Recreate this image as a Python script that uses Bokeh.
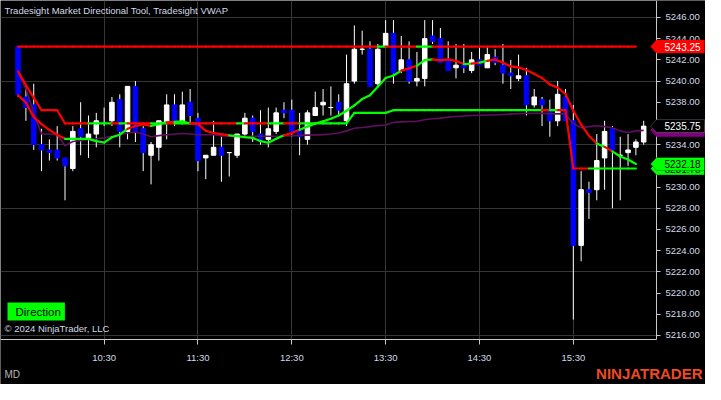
from bokeh.plotting import figure
from bokeh.models import (ColumnDataSource, Range1d, FixedTicker, NumeralTickFormatter,
                          Label, PolyAnnotation, BoxAnnotation)
from bokeh.embed import file_html
from bokeh.resources import INLINE

# ---------------- data ----------------
first_bar = "09:35"          # time stamp of the first 5-minute bar
bar_minutes = 5
x_tick_labels = ["10:30", "11:30", "12:30", "13:30", "14:30", "15:30"]
y_ticks = [5216, 5218, 5220, 5222, 5224, 5226, 5228, 5230, 5232, 5234,
           5236, 5238, 5240, 5242, 5244, 5246]
y_grid = [5216, 5222, 5228, 5234, 5240, 5246]

open_ = [5243.25, 5238.5, 5237.75, 5234.0, 5233.5, 5233.5, 5232.75, 5231.75, 5235.5, 5234.5,
         5235.0, 5236.0, 5236.25, 5238.25, 5235.25, 5239.5, 5235.5, 5233.0, 5233.75, 5236.0,
         5237.75, 5236.25, 5238.0, 5236.5, 5232.75, 5233.0, 5233.75, 5233.25, 5233.0, 5235.0,
         5236.5, 5235.0, 5234.5, 5235.25, 5237.25, 5237.25, 5235.25, 5234.5, 5236.75, 5237.75,
         5237.5, 5238.0, 5236.25, 5240.0, 5243.0, 5243.0, 5239.75, 5243.25, 5244.5, 5241.0,
         5242.0, 5240.0, 5240.25, 5244.25, 5244.0, 5242.0, 5241.25, 5241.5, 5241.0, 5242.0,
         5241.25, 5242.25, 5241.5, 5240.75, 5240.25, 5240.5, 5237.75, 5238.25, 5237.25, 5236.25,
         5238.5, 5236.25, 5224.5, 5229.75, 5229.75, 5232.75, 5235.5, 5233.0, 5233.25, 5233.75,
         5234.25]
high = [5243.25, 5239.5, 5239.75, 5235.5, 5234.5, 5235.75, 5232.75, 5235.75, 5238.0, 5236.75,
        5237.0, 5237.5, 5238.5, 5238.75, 5239.5, 5240.0, 5235.75, 5234.25, 5236.25, 5238.75,
        5238.75, 5239.0, 5239.25, 5237.0, 5233.0, 5236.25, 5234.75, 5233.25, 5235.0, 5237.0,
        5236.75, 5237.25, 5237.5, 5237.5, 5238.0, 5238.25, 5237.0, 5237.25, 5239.0, 5239.25,
        5239.5, 5238.75, 5242.5, 5245.25, 5244.75, 5243.75, 5243.5, 5245.75, 5245.75, 5244.25,
        5243.75, 5242.75, 5245.75, 5245.75, 5245.0, 5243.75, 5243.5, 5243.5, 5242.75, 5243.25,
        5243.25, 5243.0, 5243.5, 5242.0, 5242.5, 5241.25, 5239.25, 5238.5, 5238.25, 5240.0,
        5239.25, 5237.75, 5231.5, 5230.5, 5235.0, 5236.25, 5235.75, 5234.75, 5235.0, 5234.5,
        5236.25]
low = [5238.5, 5236.25, 5233.5, 5231.5, 5232.5, 5232.5, 5228.75, 5231.5, 5233.0, 5232.75,
       5233.75, 5235.75, 5235.75, 5233.75, 5234.5, 5234.25, 5231.5, 5230.25, 5232.5, 5234.5,
       5235.75, 5236.0, 5236.0, 5231.5, 5230.75, 5233.0, 5230.5, 5231.0, 5232.75, 5234.75,
       5234.25, 5234.0, 5233.75, 5235.0, 5236.5, 5234.75, 5233.0, 5234.0, 5236.75, 5236.75,
       5236.75, 5236.75, 5235.75, 5239.75, 5242.5, 5239.5, 5239.5, 5243.25, 5239.75, 5240.75,
       5239.75, 5239.5, 5239.5, 5243.5, 5241.75, 5241.0, 5240.25, 5240.75, 5240.75, 5241.5,
       5241.25, 5241.5, 5239.75, 5239.25, 5240.0, 5236.75, 5237.5, 5235.75, 5234.75, 5235.75,
       5236.25, 5217.5, 5223.0, 5227.0, 5228.75, 5229.75, 5228.0, 5228.75, 5232.0, 5233.0,
       5234.0]
close = [5238.75, 5237.5, 5234.0, 5233.5, 5233.25, 5232.75, 5232.0, 5235.25, 5234.75, 5235.0,
         5236.25, 5236.0, 5238.0, 5235.25, 5239.5, 5235.25, 5233.25, 5234.0, 5236.25, 5237.75,
         5236.25, 5237.75, 5236.75, 5232.5, 5233.0, 5233.75, 5233.0, 5233.25, 5235.0, 5236.5,
         5235.25, 5234.5, 5235.5, 5237.0, 5237.0, 5235.25, 5234.75, 5237.0, 5237.5, 5238.0,
         5237.5, 5237.25, 5239.75, 5243.0, 5243.0, 5239.5, 5243.0, 5244.5, 5240.75, 5242.0,
         5240.0, 5240.25, 5244.0, 5243.75, 5241.75, 5241.0, 5241.5, 5241.25, 5242.0, 5241.5,
         5242.5, 5241.75, 5240.75, 5240.5, 5240.5, 5237.75, 5238.5, 5237.75, 5236.25, 5238.75,
         5236.25, 5224.5, 5229.75, 5229.5, 5232.5, 5235.25, 5233.5, 5233.0, 5233.5, 5234.25,
         5235.75]

# Tradesight VWAP
vwap = [5240.75, 5239.25, 5237.0, 5235.0, 5235.0, 5234.95, 5233.9, 5234.3, 5234.4, 5234.5,
        5234.55, 5234.64, 5234.8, 5234.94, 5235.1, 5235.2, 5235.0, 5234.75, 5234.85, 5234.94,
        5235.0, 5235.06, 5235.0, 5234.94, 5234.94, 5234.94, 5234.85, 5234.8, 5234.8, 5234.8,
        5234.8, 5234.8, 5234.8, 5234.8, 5234.82, 5234.85, 5234.88, 5234.9, 5234.92, 5234.95,
        5235.0, 5235.1, 5235.3, 5235.55, 5235.62, 5235.7, 5235.8, 5235.85, 5236.1, 5236.15,
        5236.18, 5236.2, 5236.35, 5236.45, 5236.5, 5236.6, 5236.65, 5236.7, 5236.75, 5236.78,
        5236.8, 5236.8, 5236.85, 5236.9, 5236.93, 5236.96, 5236.96, 5236.95, 5236.93, 5236.9,
        5236.9, 5236.0, 5235.6, 5235.7, 5235.78, 5235.7, 5235.6, 5235.3, 5235.15, 5235.3,
        5235.35]

# Directional tool: adaptive trend line
trend_line = [5238.66, 5237.96, 5236.6, 5235.94, 5235.4, 5234.94, 5234.55, 5234.55, 5234.55, 5234.55,
              5234.33, 5234.2, 5234.7, 5234.94, 5235.5, 5235.76, 5235.9, 5235.76, 5235.96, 5236.1,
              5236.15, 5236.2, 5236.0, 5235.96, 5235.3, 5235.1, 5235.0, 5234.88, 5234.8, 5234.7,
              5234.64, 5234.33, 5234.18, 5234.55, 5234.88, 5235.1, 5235.4, 5235.7, 5236.0, 5236.2,
              5236.45, 5236.75, 5237.2, 5237.7, 5238.3, 5238.66, 5239.47, 5240.29, 5240.53, 5240.98,
              5241.2, 5241.44, 5241.98, 5242.04, 5241.95, 5242.04, 5241.9, 5241.6, 5241.65, 5241.74,
              5241.9, 5242.04, 5241.74, 5241.38, 5241.29, 5241.04, 5240.68, 5240.29, 5239.68, 5239.38,
              5238.78, 5237.2, 5235.9, 5234.85, 5234.1, 5233.79, 5233.37, 5232.88, 5232.6, 5232.18]
# Directional tool: stepped stop line
stop_line = [5240.92, 5239.63, 5238.41, 5237.25, 5237.25, 5237.25, 5236.0, 5236.0, 5236.0, 5236.0,
             5236.0, 5236.0, 5236.0, 5236.0, 5236.0, 5236.0, 5236.0, 5236.0, 5236.0, 5236.0,
             5236.0, 5236.0, 5236.0, 5236.0, 5236.0, 5236.0, 5236.0, 5236.0, 5236.0, 5236.0,
             5236.0, 5236.0, 5236.0, 5236.0, 5236.0, 5236.0, 5236.0, 5236.0, 5236.0, 5236.0,
             5236.0, 5236.0, 5236.0, 5237.0, 5237.0, 5237.0, 5237.0, 5237.0, 5237.25, 5237.25,
             5237.25, 5237.25, 5237.25, 5237.25, 5237.25, 5237.25, 5237.25, 5237.25, 5237.25, 5237.25,
             5237.25, 5237.25, 5237.25, 5237.25, 5237.25, 5237.25, 5237.25, 5237.25, 5237.25, 5237.25,
             5237.25, 5231.75, 5231.75, 5231.75, 5231.75, 5231.75, 5231.75, 5231.75, 5231.75, 5231.75]
# Directional tool: session high level
level_value = 5243.25
level_bars = 80

# direction state runs: (first bar of run, state) ; bars are 1-based
trend_runs = [(1, "dn"), (7, "up"), (15, "dn"), (18, "up"), (20, "dn"), (21, "up"), (23, "dn"),
              (28, "up"), (35, "dn"), (37, "up"), (50, "dn"), (52, "up"), (54, "dn"), (58, "up"),
              (59, "dn"), (60, "up"), (61, "dn"), (75, "up"), (76, "dn"), (77, "up")]
stop_runs = [(1, "dn"), (10, "up"), (13, "dn"), (14, "up"), (15, "dn"), (18, "up"), (20, "dn"),
             (21, "up"), (23, "dn"), (29, "up"), (30, "dn"), (33, "up"), (35, "dn"), (37, "up"),
             (68, "dn"), (69, "up"), (70, "dn"), (74, "up")]
level_runs = [(1, "dn"), (47, "up"), (48, "dn"), (52, "up"), (54, "dn")]

# ---------------- layout / styles ----------------
UP_COL = "#00ff00"
DN_COL = "#ff0000"
TXT = "#d2dae6"
FONT = "Liberation Sans"

W, H = 705, 384
PX_BAR = 7.82            # pixels per bar
PX_PT = 10.6             # pixels per index point
AXIS_X_PX = 656          # position of the price axis line
AXIS_Y_PX = 339          # position of the time axis line (from top)
X0 = -2.25
X_END = X0 + W / PX_BAR
X1 = X0 + AXIS_X_PX / PX_BAR
Y_TOP = 5247.6
Y_END = Y_TOP - H / PX_PT
Y0 = Y_TOP - AXIS_Y_PX / PX_PT
XS, YS = 1 / PX_BAR, 1 / PX_PT


def bar_index(t):
    h, m = map(int, t.split(":"))
    h0, m0 = map(int, first_bar.split(":"))
    return ((h * 60 + m) - (h0 * 60 + m0)) // bar_minutes


def state_of(bar, runs):
    s = runs[0][1]
    for start, st in runs:
        if bar >= start:
            s = st
    return s


def seg_source(values, runs):
    x0, x1, y0, y1, col = [], [], [], [], []
    for i in range(len(values) - 1):
        x0.append(i); x1.append(i + 1)
        y0.append(values[i]); y1.append(values[i + 1])
        col.append(UP_COL if state_of(i + 1, runs) == "up" else DN_COL)
    return ColumnDataSource(dict(x0=x0, x1=x1, y0=y0, y1=y1, c=col))


p = figure(width=W, height=H, output_backend="svg", toolbar_location=None, title=None,
           x_range=Range1d(X0, X_END), y_range=Range1d(Y_END, Y_TOP),
           y_axis_location="right", min_border=0,
           background_fill_color="black", border_fill_color="black",
           outline_line_color=None)

# axes (fixed inside the frame so that tags can overlap them)
tick_idx = [bar_index(t) for t in x_tick_labels]
p.xaxis.ticker = FixedTicker(ticks=tick_idx)
p.xgrid.ticker = FixedTicker(ticks=tick_idx)
p.xaxis.major_label_overrides = {i: t for i, t in zip(tick_idx, x_tick_labels)}
p.yaxis.ticker = FixedTicker(ticks=y_ticks)
p.ygrid.ticker = FixedTicker(ticks=y_grid)
p.yaxis.formatter = NumeralTickFormatter(format="0.00")
for ax in (p.xaxis[0], p.yaxis[0]):
    ax.axis_line_color = "#c8c8c8"
    ax.major_tick_line_color = "#c8c8c8"
    ax.minor_tick_line_color = None
    ax.major_tick_in = 0
    ax.major_label_text_color = TXT
    ax.major_label_text_font = FONT
    ax.major_label_text_font_size = "9.5px"
p.yaxis.fixed_location = X1
p.yaxis.bounds = (Y0, Y_TOP)
p.xaxis.fixed_location = Y0
p.xaxis.bounds = (X0, X1)
p.yaxis.major_tick_out = 4
p.yaxis.major_label_standoff = 5
p.xaxis.major_tick_out = 5
p.xaxis.major_label_standoff = 7
p.xgrid.grid_line_color = "#363636"
p.ygrid.grid_line_color = "#363636"
# keep the grid out of the axis areas
p.add_layout(BoxAnnotation(left=X1, fill_color="black", fill_alpha=1, line_color=None,
                           level="underlay"))
p.add_layout(BoxAnnotation(top=Y0, fill_color="black", fill_alpha=1, line_color=None,
                           level="underlay"))

# candles
idx = list(range(len(close)))
body_col = ["#ffffff" if c >= o else "#0000ff" for o, c in zip(open_, close)]
cs = ColumnDataSource(dict(x=idx, o=open_, h=high, l=low, c=close, col=body_col))
p.segment(x0="x", x1="x", y0="l", y1="h", source=cs, line_color="#ffffff", line_width=1)
p.vbar(x="x", width=0.58, top="o", bottom="c", source=cs,
       fill_color="col", line_color="col", line_width=1)

# VWAP
p.line(list(range(len(vwap))), vwap, line_color="#5e105e", line_width=1.6)

# directional tool lines
level_vals = [level_value] * level_bars
for vals, runs in ((stop_line, stop_runs), (level_vals, level_runs), (trend_line, trend_runs)):
    p.segment(x0="x0", x1="x1", y0="y0", y1="y1", line_color="c", line_width=2.2,
              line_cap="round", source=seg_source(vals, runs))


# price tags on the price axis
def tag(v, fill, txt_col, border=None, show_text=True):
    hh = 6.5 * YS
    p.add_layout(PolyAnnotation(xs=[X1 - 6 * XS, X1, X1 + 48 * XS, X1 + 48 * XS, X1],
                                ys=[v, v + hh, v + hh, v - hh, v - hh],
                                fill_color=fill, fill_alpha=1.0,
                                line_color=border if border else fill, line_width=1))
    if show_text:
        p.add_layout(Label(x=X1 + 8 * XS, y=v, text=f"{v:.2f}", text_baseline="middle",
                           text_align="left", text_color=txt_col, text_font=FONT,
                           text_font_size="10px"))


tag(vwap[-1], "#800080", "white", show_text=False)
tag(close[-1], "black", "white", border="#b0b0b0")
tag(stop_line[-1], UP_COL, "black", border="#000000")
tag(trend_line[-1], UP_COL, "black", border="#000000")
tag(level_value, DN_COL, "white")

# texts
p.add_layout(Label(x=4, y=H - 4, x_units="screen", y_units="screen",
                   text="Tradesight Market Directional Tool, Tradesight VWAP",
                   text_baseline="top", text_color=TXT, text_font=FONT,
                   text_font_size="9.5px"))
p.add_layout(Label(x=7, y=H - 311, x_units="screen", y_units="screen", text="Direction",
                   text_baseline="middle", text_color="black", text_font=FONT,
                   text_font_size="11.5px", background_fill_color=UP_COL,
                   padding=dict(left=8, right=4, top=3, bottom=3)))
p.add_layout(Label(x=4, y=H - 328, x_units="screen", y_units="screen",
                   text="\u00a9 2024 NinjaTrader, LLC", text_baseline="middle",
                   text_color=TXT, text_font=FONT, text_font_size="9.5px"))
p.add_layout(Label(x=4, y=H - 374, x_units="screen", y_units="screen", text="MD",
                   text_baseline="middle", text_color="#b4b4b4", text_font=FONT,
                   text_font_size="10px"))
p.add_layout(Label(x=W - 3, y=H - 373, x_units="screen", y_units="screen",
                   text="NINJATRADER", text_baseline="middle", text_align="right",
                   text_color="#ee4a22", text_font=FONT, text_font_style="bold",
                   text_font_size="15px"))

open("out.html", "w").write(file_html(p, INLINE))
